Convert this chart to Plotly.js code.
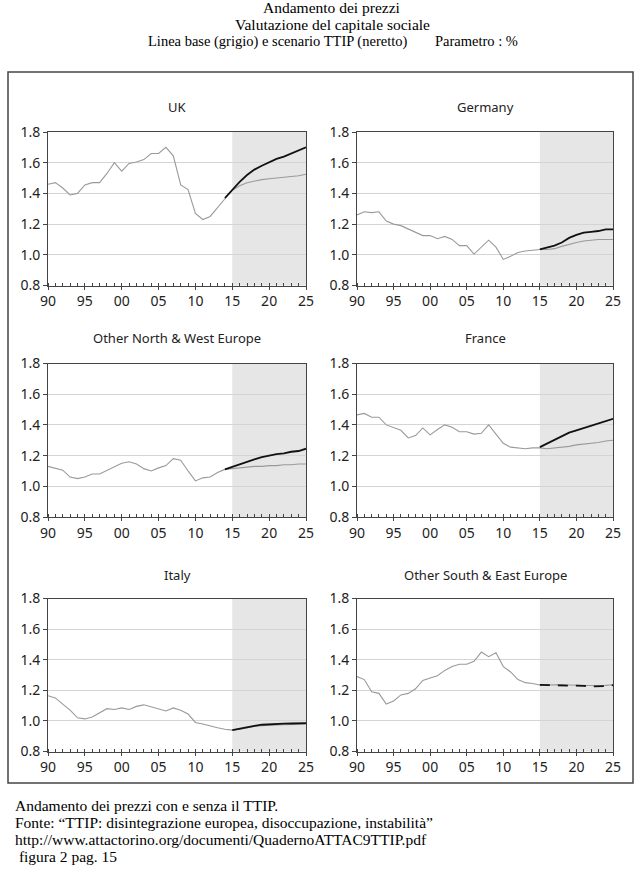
<!DOCTYPE html>
<html>
<head>
<meta charset="utf-8">
<script src="https://cdn.plot.ly/plotly-3.0.1.min.js"></script>
<style>html,body{margin:0;padding:0;background:#fff;}#chart{width:640px;height:876px;}</style>
</head>
<body>
<div id="chart"></div>
<script>
// ---- DATA ----
const years = [1990,1991,1992,1993,1994,1995,1996,1997,1998,1999,2000,2001,2002,2003,2004,2005,2006,2007,2008,2009,2010,2011,2012,2013,2014,2015,2016,2017,2018,2019,2020,2021,2022,2023,2024,2025];
const ttipYearsFrom2014 = [2014,2015,2016,2017,2018,2019,2020,2021,2022,2023,2024,2025];
const ttipYearsFrom2015 = [2015,2016,2017,2018,2019,2020,2021,2022,2023,2024,2025];

const regions = ["UK","Germany","Other North & West Europe","France","Italy","Other South & East Europe"];

const ukBase = [1.46,1.47,1.435,1.39,1.40,1.455,1.47,1.47,1.53,1.60,1.545,1.595,1.605,1.62,1.66,1.66,1.70,1.645,1.455,1.425,1.27,1.23,1.25,1.31,1.365,1.42,1.45,1.47,1.48,1.49,1.495,1.50,1.505,1.51,1.515,1.525];
const ukTtip = [1.37,1.425,1.475,1.52,1.555,1.58,1.605,1.625,1.64,1.66,1.68,1.70];

const deBase = [1.26,1.28,1.275,1.28,1.22,1.20,1.19,1.17,1.15,1.125,1.125,1.105,1.12,1.10,1.06,1.06,1.005,1.05,1.095,1.05,0.97,0.99,1.015,1.025,1.03,1.035,1.035,1.04,1.055,1.07,1.08,1.09,1.095,1.10,1.10,1.10];
const deTtip = [1.035,1.045,1.06,1.08,1.11,1.13,1.145,1.15,1.155,1.165,1.165];

const onweBase = [1.13,1.12,1.105,1.06,1.05,1.06,1.08,1.08,1.105,1.13,1.15,1.16,1.145,1.115,1.10,1.12,1.135,1.18,1.17,1.10,1.035,1.055,1.06,1.09,1.11,1.115,1.12,1.125,1.13,1.13,1.135,1.135,1.14,1.14,1.145,1.145];
const onweTtip = [1.11,1.125,1.14,1.155,1.175,1.19,1.20,1.21,1.215,1.225,1.23,1.245];

const frBase = [1.465,1.475,1.45,1.45,1.40,1.38,1.365,1.315,1.33,1.38,1.335,1.37,1.40,1.385,1.355,1.355,1.34,1.345,1.40,1.34,1.28,1.255,1.25,1.245,1.25,1.25,1.245,1.25,1.255,1.26,1.27,1.275,1.28,1.285,1.295,1.30];
const frTtip = [1.255,1.28,1.305,1.33,1.35,1.365,1.38,1.395,1.41,1.425,1.44];

const itBase = [1.165,1.15,1.11,1.07,1.02,1.013,1.025,1.05,1.08,1.075,1.085,1.075,1.095,1.105,1.09,1.075,1.065,1.085,1.07,1.045,0.99,0.98,0.965,0.955,0.945,0.94,0.945,0.955,0.963,0.968,0.972,0.974,0.975,0.976,0.977,0.978];
const itTtip = [0.94,0.95,0.96,0.968,0.975,0.978,0.982,0.982,0.983,0.985,0.985];

const oseeBase = [1.29,1.27,1.19,1.18,1.11,1.13,1.17,1.18,1.21,1.265,1.28,1.295,1.33,1.355,1.37,1.37,1.39,1.45,1.42,1.445,1.355,1.32,1.27,1.25,1.245,1.235,1.235,1.237,1.237,1.235,1.233,1.232,1.23,1.23,1.232,1.236];
const oseeTtip = [1.235,1.234,1.234,1.235,1.233,1.231,1.229,1.226,1.225,1.227,1.234];

const xTickVals = [1990,1995,2000,2005,2010,2015,2020,2025];
const xTickText = ["90","95","00","05","10","15","20","25"];
const yTickVals = [0.8,1.0,1.2,1.4,1.6,1.8];

const forecastStart = 2015, forecastEnd = 2025;

const headerLines = ["Andamento dei prezzi","Valutazione del capitale sociale"];
const headerLine3a = "Linea base (grigio) e scenario TTIP (neretto)";
const headerLine3b = "Parametro : %";
const footerLines = ["Andamento dei prezzi con e senza il TTIP.",
  "Fonte: \u201cTTIP: disintegrazione europea, disoccupazione, instabilit\u00e0\u201d",
  "http://www.attactorino.org/documenti/QuadernoATTAC9TTIP.pdf",
  "\u00a0figura 2 pag. 15"];

// ---- BUILD ----
const W = 640, H = 876;
const px = v => v / W;
const py = v => 1 - v / H;

const panels = [
  {base: ukBase,   ttip: ukTtip,   ty: ttipYearsFrom2014, dash: 'solid'},
  {base: deBase,   ttip: deTtip,   ty: ttipYearsFrom2015, dash: 'solid'},
  {base: onweBase, ttip: onweTtip, ty: ttipYearsFrom2014, dash: 'solid'},
  {base: frBase,   ttip: frTtip,   ty: ttipYearsFrom2015, dash: 'solid'},
  {base: itBase,   ttip: itTtip,   ty: ttipYearsFrom2015, dash: 'solid'},
  {base: oseeBase, ttip: oseeTtip, ty: ttipYearsFrom2015, dash: '10px,8px'}
];

const colX = [[48, 306], [357, 613]];
const rowY = [[132, 285.5], [363.5, 517], [598.5, 751.5]];
const titleY = [107, 338, 575];

const traces = [];
const layout = {
  width: W, height: H,
  margin: {l: 0, r: 0, t: 0, b: 0},
  paper_bgcolor: '#fff', plot_bgcolor: 'rgba(0,0,0,0)',
  showlegend: false,
  shapes: [], annotations: []
};

panels.forEach((p, i) => {
  const n = i + 1;
  const col = i % 2, row = Math.floor(i / 2);
  const xa = 'x' + (n === 1 ? '' : n), ya = 'y' + (n === 1 ? '' : n);
  traces.push({x: years, y: p.base, xaxis: xa, yaxis: ya, type: 'scatter', mode: 'lines',
    line: {color: '#9a9a9a', width: 1.1}, hoverinfo: 'skip'});
  traces.push({x: p.ty, y: p.ttip, xaxis: xa, yaxis: ya, type: 'scatter', mode: 'lines',
    line: {color: '#111', width: 1.8, dash: p.dash}, hoverinfo: 'skip'});
  const axBase = {
    showline: true, mirror: true, linecolor: '#444', linewidth: 1,
    tickfont: {family: 'Noto Sans, sans-serif', size: 14, color: '#222'},
    tickcolor: '#444', zeroline: false, fixedrange: true
  };
  layout['xaxis' + (n === 1 ? '' : n)] = Object.assign({}, axBase, {
    domain: [px(colX[col][0]), px(colX[col][1])], anchor: ya,
    range: [1990, 2025], tickvals: xTickVals, ticktext: xTickText,
    ticks: 'outside', ticklen: 3, showgrid: false,
    minor: {dtick: 1, tick0: 1990, ticks: 'inside', ticklen: 3, tickcolor: '#444', showgrid: false}
  });
  layout['yaxis' + (n === 1 ? '' : n)] = Object.assign({}, axBase, {
    domain: [py(rowY[row][1]), py(rowY[row][0])], anchor: xa,
    range: [0.8, 1.8], tickvals: yTickVals, tickformat: '.1f',
    ticks: 'outside', ticklen: 4, showgrid: true, gridcolor: '#d4d4d4', gridwidth: 1
  });
  layout.shapes.push({type: 'rect', xref: xa, yref: ya + ' domain', x0: forecastStart, x1: forecastEnd,
    y0: 0, y1: 1, fillcolor: '#e6e6e6', line: {width: 0}, layer: 'below'});
  layout.annotations.push({text: regions[i], xref: 'paper', yref: 'paper',
    x: px((colX[col][0] + colX[col][1]) / 2), y: py(titleY[row]), xanchor: 'center', yanchor: 'middle',
    showarrow: false, font: {family: 'Noto Sans, sans-serif', size: 13, color: '#222'}});
});

// outer frame
layout.shapes.push({type: 'rect', xref: 'paper', yref: 'paper', x0: px(8), x1: px(633), y0: py(783), y1: py(72),
  line: {color: '#444', width: 1.5}, fillcolor: 'rgba(0,0,0,0)'});

const serif = {family: 'Liberation Serif, Times New Roman, serif', size: 15.5, color: '#000'};
const serifSmall = Object.assign({}, serif, {size: 14.5});
const headY = [7.5, 24, 41];
headerLines.forEach((t, k) => {
  layout.annotations.push({text: t, xref: 'paper', yref: 'paper', x: px(332), y: py(headY[k]),
    xanchor: 'center', yanchor: 'middle', showarrow: false, font: serif});
});
layout.annotations.push({text: headerLine3a, xref: 'paper', yref: 'paper', x: px(146), y: py(headY[2]),
  xanchor: 'left', yanchor: 'middle', showarrow: false, font: serifSmall});
layout.annotations.push({text: headerLine3b, xref: 'paper', yref: 'paper', x: px(433), y: py(headY[2]),
  xanchor: 'left', yanchor: 'middle', showarrow: false, font: serifSmall});

const footY = [805, 822, 839, 856];
footerLines.forEach((t, k) => {
  layout.annotations.push({text: t, xref: 'paper', yref: 'paper', x: px(13), y: py(footY[k]),
    xanchor: 'left', yanchor: 'middle', showarrow: false, font: serif});
});

Plotly.newPlot('chart', traces, layout, {staticPlot: true, displayModeBar: false});
</script>
</body>
</html>
